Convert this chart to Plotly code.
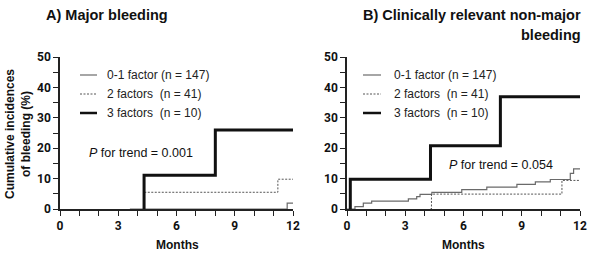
import plotly.graph_objects as go

# ---------------- data ----------------
series_names = ["0-1 factor (n = 147)", "2 factors\u00a0 (n = 41)", "3 factors\u00a0 (n = 10)"]

# Panel A: Major bleeding (months, cumulative %)
a_low_x = [3.6, 11.7, 12]
a_low_y = [0, 1.9, 1.9]
a_mid_x = [4.3, 4.3, 11.22, 12]
a_mid_y = [0, 5.5, 9.8, 9.8]
a_high_x = [4.33, 4.33, 8.0, 12]
a_high_y = [0, 11.1, 26.0, 26.0]

# Panel B: Clinically relevant non-major bleeding
b_low_x = [0, 0.41, 0.84, 1.27, 3.16, 3.59, 3.76, 4.37, 5.91, 7.2, 8.75, 9.7, 10.47, 11.5, 11.67, 12]
b_low_y = [0, 0.8, 1.9, 2.6, 3.3, 4.1, 4.8, 5.5, 6.4, 7.2, 8.1, 8.9, 9.7, 11.7, 13.2, 13.2]
b_mid_x = [4.3, 4.35, 11.07, 12]
b_mid_y = [0, 4.9, 9.4, 9.4]
b_high_x = [0.17, 0.17, 4.3, 7.9, 12]
b_high_y = [0, 9.8, 20.8, 36.9, 36.9]

x_tick_vals = list(range(0, 13))
x_label_vals = [0, 3, 6, 9, 12]
y_tick_vals = list(range(0, 51, 5))
y_label_vals = [0, 10, 20, 30, 40, 50]

p_texts = ["<i>P</i> for trend = 0.001", "<i>P</i> for trend = 0.054"]

# ---------------- styles ----------------
colors = ["#6a6a6a", "#555555", "#111111"]
widths = [1.2, 1.0, 3.0]
dashes = ["solid", "2px,1.5px", "solid"]

W, H = 597, 257
FONT = "Liberation Sans, Arial, sans-serif"
TICKFONT = "Roboto, Liberation Sans, sans-serif"

fig = go.Figure()

panels = [
    ("x", "y", [(a_low_x, a_low_y), (a_mid_x, a_mid_y), (a_high_x, a_high_y)]),
    ("x2", "y2", [(b_low_x, b_low_y), (b_mid_x, b_mid_y), (b_high_x, b_high_y)]),
]
for xa, ya, data in panels:
    for i, (xs, ys) in enumerate(data):
        fig.add_trace(go.Scatter(
            x=xs, y=ys, mode="lines", line_shape="hv",
            line=dict(color=colors[i], width=widths[i], dash=dashes[i]),
            name=series_names[i], showlegend=False, xaxis=xa, yaxis=ya,
        ))

def px(x):
    return x / W

def py(y):
    return 1 - y / H

axis_common = dict(
    showline=True, linecolor="#222", linewidth=1.5, showgrid=False, zeroline=False,
    ticks="outside", ticklen=5, tickwidth=1.3, tickcolor="#222",
    tickfont=dict(family=TICKFONT, size=12, color="#111", weight="bold"),
    automargin=False, ticklabeloverflow="allow",
)
xdom1 = [px(60), px(293)]
xdom2 = [px(347), px(580)]
ydom = [1 - 209 / H, 1 - 57 / H]

xa_kw = dict(axis_common, range=[0, 12], tickmode="array", tickvals=x_tick_vals,
             ticktext=[str(v) if v in x_label_vals else "" for v in x_tick_vals])
ya_kw = dict(axis_common, range=[0, 50], tickmode="array", tickvals=y_tick_vals,
             ticktext=[str(v) if v in y_label_vals else "" for v in y_tick_vals])

fig.update_layout(
    width=W, height=H,
    margin=dict(l=0, r=0, t=0, b=0, autoexpand=False),
    paper_bgcolor="white", plot_bgcolor="white",
    template="none",
    xaxis=dict(xa_kw, domain=xdom1, anchor="y"),
    yaxis=dict(ya_kw, domain=ydom, anchor="x"),
    xaxis2=dict(xa_kw, domain=xdom2, anchor="y2"),
    yaxis2=dict(ya_kw, domain=ydom, anchor="x2"),
    font=dict(family=FONT, color="#111"),
    showlegend=False,
)

ann = []
# Titles
ann.append(dict(text="<b>A) Major bleeding</b>", x=px(44), y=py(15), xref="paper", yref="paper",
                xanchor="left", yanchor="middle", showarrow=False, font=dict(size=14.5, family=FONT, color="#111")))
ann.append(dict(text="<b>B) Clinically relevant non-major</b>", x=px(583), y=py(15), xref="paper", yref="paper",
                xanchor="right", yanchor="middle", showarrow=False, font=dict(size=14.5, family=FONT, color="#111")))
ann.append(dict(text="<b>bleeding</b>", x=px(583), y=py(35), xref="paper", yref="paper",
                xanchor="right", yanchor="middle", showarrow=False, font=dict(size=14.5, family=FONT, color="#111")))
# Axis titles
ann.append(dict(text="<b>Cumulative incidences<br>of bleeding (%)</b>", x=px(18), y=py(134), xref="paper", yref="paper",
                xanchor="center", yanchor="middle", textangle=-90, showarrow=False,
                font=dict(size=12, family=FONT, color="#111")))
for cx in (177, 463):
    ann.append(dict(text="<b>Months</b>", x=px(cx), y=py(245), xref="paper", yref="paper",
                    xanchor="center", yanchor="middle", showarrow=False, font=dict(size=12, family=FONT, color="#111")))
# P for trend
ann.append(dict(text=p_texts[0], x=px(87), y=py(153), xref="paper", yref="paper", xanchor="left", yanchor="middle",
                showarrow=False, font=dict(size=12.5, family=FONT, color="#111")))
ann.append(dict(text=p_texts[1], x=px(447), y=py(165), xref="paper", yref="paper", xanchor="left", yanchor="middle",
                showarrow=False, font=dict(size=12.5, family=FONT, color="#111")))

# Legends (line sample + text), one per panel
shapes = []
legend_pos = [(80, 97, 105), (363, 381, 392)]
rows = [75, 94, 113]
for (lx0, lx1, tx) in legend_pos:
    for i, ry in enumerate(rows):
        shapes.append(dict(type="line", xref="paper", yref="paper", x0=px(lx0), x1=px(lx1), y0=py(ry), y1=py(ry),
                           line=dict(color=colors[i], width=widths[i] if i != 2 else 2.5, dash=dashes[i])))
        ann.append(dict(text=series_names[i], x=px(tx), y=py(ry), xref="paper", yref="paper",
                        xanchor="left", yanchor="middle", showarrow=False,
                        font=dict(size=12, family=FONT, color="#222")))

fig.update_layout(annotations=ann, shapes=shapes)
fig.write_html("out.html")
